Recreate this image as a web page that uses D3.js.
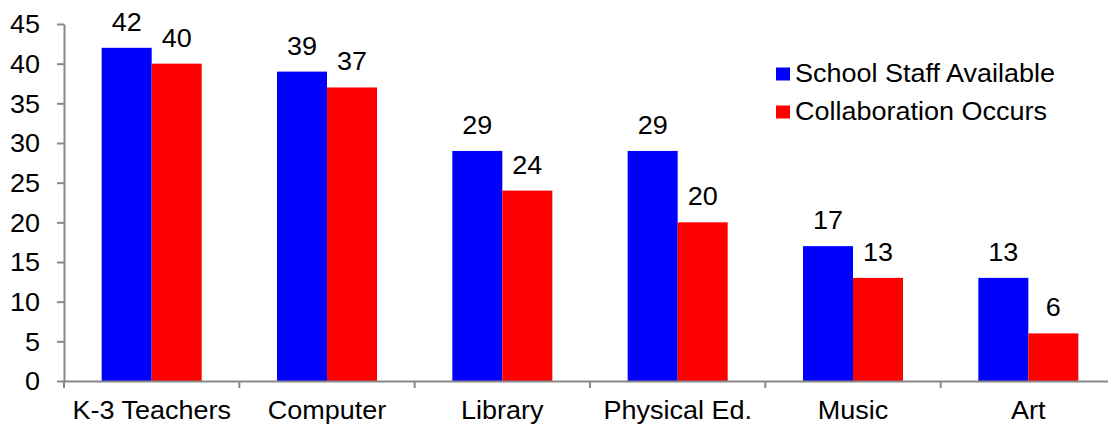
<!DOCTYPE html>
<html><head><meta charset="utf-8">
<script src="https://cdn.jsdelivr.net/npm/d3@7"></script>
<style>body{margin:0;background:#fff;}svg{display:block;font-family:"Liberation Sans",Arial,sans-serif;}</style>
</head><body><svg id="c" width="1108" height="424"></svg>
<script>
const categories = ["K-3 Teachers","Computer","Library","Physical Ed.","Music","Art"];
const seriesNames = ["School Staff Available","Collaboration Occurs"];
const staffAvailable = [42,39,29,29,17,13];
const collaboration = [40,37,24,20,13,6];
const yTicks = [0,5,10,15,20,25,30,35,40,45];
const colors = ["#0000ff","#ff0000"];

const FS = 25, SX = 1.08;
const FONT = "Liberation Sans, Arial, sans-serif";

const svg = d3.select("#c");
const mLeft = 64, mRight = 1116, mTop = 24, mBottom = 381;
const x = d3.scaleBand().domain(categories).range([mLeft,mRight]).paddingInner(0).paddingOuter(0);
const B = x.bandwidth();
const outerPad = (B/50 - 2)/2;
const xi = d3.scaleBand().domain([0,1]).range([0,B]).paddingInner(0).paddingOuter(outerPad);
const y = d3.scaleLinear().domain([0,45]).range([mBottom,mTop]);

function styleText(sel, tx, ty){
  sel.attr("x",0).attr("y",0).attr("font-size",FS).attr("font-family",FONT).attr("fill","#000")
     .attr("transform",(d,i)=>`translate(${typeof tx==="function"?tx(d,i):tx},${typeof ty==="function"?ty(d,i):ty}) scale(${SX},1)`);
}

const series = [staffAvailable, collaboration];
const grp = svg.append("g");
categories.forEach((c,i)=>{
  series.forEach((s,k)=>{
    const bx = x(c) + xi(k);
    const bw = xi.bandwidth();
    grp.append("rect").attr("x",bx).attr("y",y(s[i])).attr("width",bw).attr("height",y(0)-y(s[i])).attr("fill",colors[k]);
    const t = grp.append("text").attr("text-anchor","middle").text(s[i]);
    styleText(t, bx+bw/2, y(s[i])-17);
  });
});

// y axis
const yAxis = svg.append("g").attr("transform",`translate(${mLeft},0)`)
  .call(d3.axisLeft(y).tickValues(yTicks).tickSize(7).tickPadding(17).tickSizeOuter(0));
yAxis.select(".domain").attr("stroke","#888").attr("stroke-width",2);
yAxis.selectAll(".tick line").attr("stroke","#888").attr("stroke-width",2);
const yt = yAxis.selectAll(".tick text");
styleText(yt, -24, 0);
yt.attr("dy","0.35em").attr("text-anchor","end");

// x axis
const xAxis = svg.append("g").attr("transform",`translate(0,${mBottom})`)
  .call(d3.axisBottom(x).tickSize(0).tickPadding(20).tickSizeOuter(0));
xAxis.select(".domain").attr("stroke","#888").attr("stroke-width",2);
const xt = xAxis.selectAll(".tick text");
styleText(xt, 0, 38);
xt.attr("dy",0).attr("text-anchor","middle");
const bounds = categories.map(c=>x(c)).concat([mRight]);
svg.append("g").selectAll("line").data(bounds).join("line")
  .attr("x1",d=>d).attr("x2",d=>d).attr("y1",mBottom).attr("y2",mBottom+7)
  .attr("stroke","#888").attr("stroke-width",2);

// legend
const lg = svg.append("g");
seriesNames.forEach((n,k)=>{
  lg.append("rect").attr("x",776).attr("y",67.5+k*38).attr("width",14).attr("height",13).attr("fill",colors[k]);
  const t = lg.append("text").text(n);
  styleText(t, 795, 81.5+k*38);
});
</script></body></html>
